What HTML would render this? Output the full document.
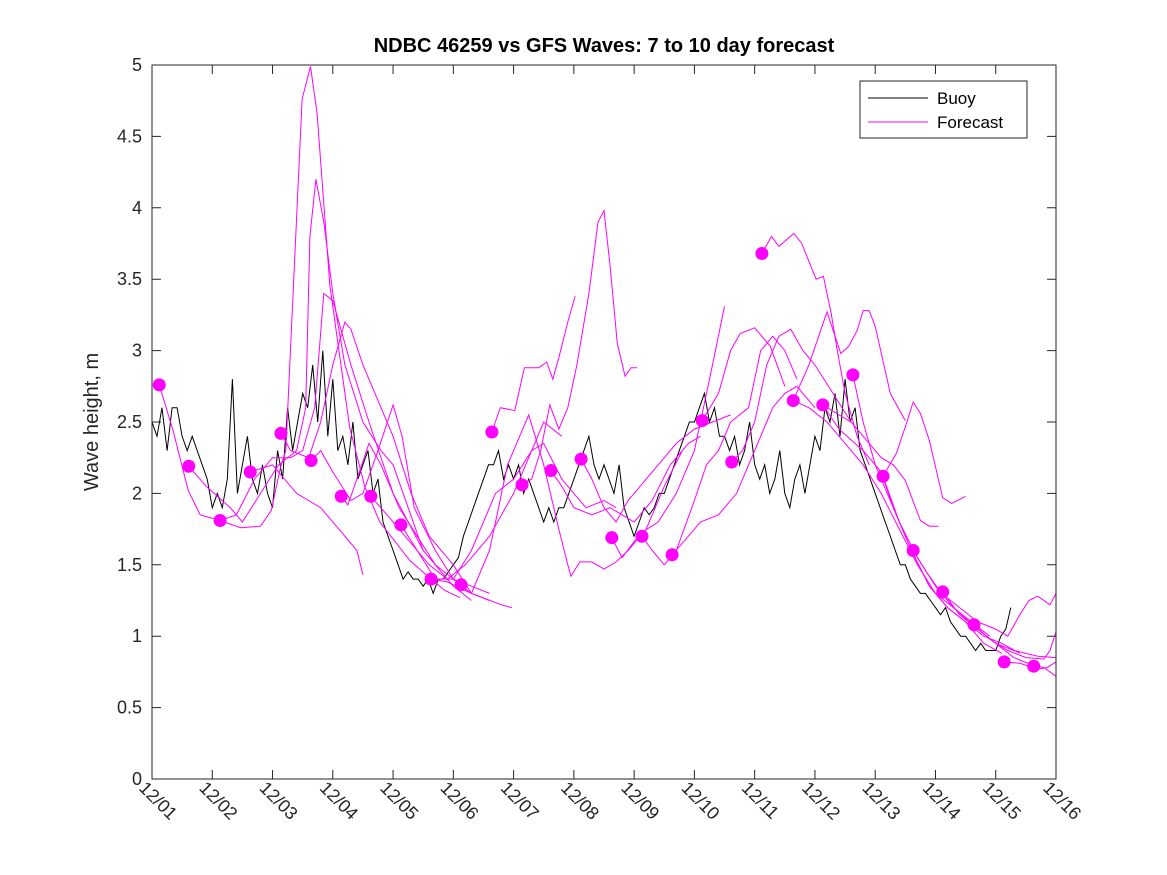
<!DOCTYPE html>
<html><head><meta charset="utf-8"><style>
body{margin:0;background:#fff;}
svg{display:block;font-family:"Liberation Sans","DejaVu Sans",sans-serif;}
</style></head><body>
<svg id="chart" width="1167" height="875" viewBox="0 0 1167 875" xmlns="http://www.w3.org/2000/svg">
<rect width="1167" height="875" fill="#fff"/>
<text x="604" y="52" text-anchor="middle" font-size="20" font-weight="bold" fill="#000">NDBC 46259 vs GFS Waves: 7 to 10 day forecast</text>
<text transform="translate(98,422) rotate(-90)" text-anchor="middle" font-size="20" fill="#262626">Wave height, m</text>
<g id="axes"></g>
<g id="series"></g>
<rect x="152" y="65" width="904" height="714" fill="none" stroke="#262626" stroke-width="1"/>
<g>
<rect x="860" y="81" width="167" height="57" fill="#fff" stroke="#262626" stroke-width="1"/>
<g><line x1="868" y1="98" x2="928" y2="98" stroke="#000" stroke-width="1"/><text x="937" y="104" font-size="17" fill="#000">Buoy</text></g>
<g><line x1="868" y1="122" x2="928" y2="122" stroke="#ff00ff" stroke-width="1"/><text x="937" y="128" font-size="17" fill="#000">Forecast</text></g>
</g>
</svg>
<script>
const xTickLabels=["12/01","12/02","12/03","12/04","12/05","12/06","12/07","12/08","12/09","12/10","12/11","12/12","12/13","12/14","12/15","12/16"];
const yTickValues=[0,0.5,1,1.5,2,2.5,3,3.5,4,4.5,5];
const yTickLabels=["0","0.5","1","1.5","2","2.5","3","3.5","4","4.5","5"];
const buoyStart=0, buoyStep=1/12;
const buoyValues=[
2.5,2.4,2.6,2.3,2.6,2.6, 2.4,2.3,2.4,2.3,2.2,2.1,
1.9,2.0,1.9,2.1,2.8,2.0, 2.2,2.4,2.1,2.0,2.2,2.0,
1.9,2.3,2.1,2.6,2.3,2.5, 2.7,2.6,2.9,2.5,3.0,2.4,
2.8,2.3,2.4,2.2,2.5,2.1, 2.2,2.3,2.0,2.1,1.8,1.7,
1.6,1.5,1.4,1.45,1.4,1.4, 1.35,1.4,1.3,1.4,1.4,1.45,
1.5,1.55,1.7,1.8,1.9,2.0, 2.1,2.2,2.2,2.3,2.1,2.2,
2.1,2.2,2.0,2.1,2.0,1.9, 1.8,1.9,1.8,1.9,1.9,2.0,
2.1,2.2,2.3,2.4,2.2,2.1, 2.2,2.1,2.0,2.2,1.9,1.8,
1.7,1.8,1.9,1.85,1.9,2.0, 2.0,2.1,2.2,2.3,2.4,2.5,
2.5,2.6,2.7,2.5,2.6,2.4, 2.4,2.3,2.4,2.2,2.3,2.5,
2.2,2.1,2.2,2.0,2.1,2.3, 2.0,1.9,2.1,2.2,2.0,2.2,
2.4,2.3,2.6,2.5,2.7,2.4, 2.8,2.5,2.6,2.3,2.2,2.1,
2.0,1.9,1.8,1.7,1.6,1.5, 1.5,1.4,1.35,1.3,1.3,1.25,
1.2,1.15,1.2,1.1,1.05,1.0, 1.0,0.95,0.9,0.95,0.9,0.9,
0.9,1.0,1.05,1.2];
const dotDays=[0.12,0.61,1.13,1.63,2.14,2.64,3.14,3.63,4.13,4.63,5.13,5.64,6.14,6.62,7.12,7.63,8.13,8.63,9.13,9.62,10.12,10.64,11.13,11.63,12.13,12.63,13.12,13.64,14.14,14.63];
const dotValues=[2.76,2.19,1.81,2.15,2.42,2.23,1.98,1.98,1.78,1.40,1.36,2.43,2.06,2.16,2.24,1.69,1.70,1.57,2.51,2.22,3.68,2.65,2.62,2.83,2.12,1.60,1.31,1.08,0.82,0.79];
const fcDays=[
[0.12,0.35,0.6,0.8,1.13,1.47,1.8,1.98,2.13,2.22,2.49,2.63,2.74,2.95,3.28,3.53,3.78,4.28,4.63,4.86,5.11],
[0.61,0.9,1.3,1.5,1.8,2.1,2.4,2.55,2.62,2.72,2.85,3.0,3.2,3.5,3.8,4.0,4.5],
[1.13,1.4,1.7,2.0,2.3,2.5,2.7,2.85,3.0,3.3,3.6,4.0,4.5,5.0,5.3],
[1.63,2.0,2.4,2.8,3.1,3.4,3.5],
[2.14,2.3,2.6,2.8,3.0,3.2,3.3,3.5,3.8,4.0,4.3,4.6,5.0,5.3,5.6],
[2.64,2.8,3.0,3.3,3.5,3.75,4.0,4.15,4.35,4.7,5.0,5.3,5.8,5.97],
[3.14,3.25,3.4,3.6,3.8,4.1,4.4,4.7,5.0,5.3,5.6],
[3.63,3.9,4.2,4.6,4.9,5.2,5.6,6.0,6.3,6.5,6.8],
[4.13,4.4,4.7,5.0,5.3,5.7,6.0,6.3,6.5,6.8,7.2,7.5,7.7],
[4.63,4.9,5.3,5.6,5.9,6.25,6.5,6.75,6.9,6.95,7.1,7.3,7.5,7.7,7.9,8.2,8.5,8.8],
[5.64,5.78,6.02,6.18,6.42,6.55,6.65,6.75,6.9,7.02],
[6.14,6.3,6.45,6.6,6.75,6.9,7.05,7.25,7.4,7.5,7.6,7.72,7.85,7.95,8.05],
[6.62,6.8,7.0,7.3,7.6,7.8,8.0,8.3,8.6,8.9,9.1],
[7.12,7.3,7.5,7.7,7.9,8.2,8.5,8.7,9.0,9.3,9.6],
[7.63,7.8,8.1,8.4,8.7,9.0,9.3,9.5],
[8.13,8.3,8.5,8.7,9.0,9.2,9.4,9.6,9.9,10.1,10.3,10.5,10.7],
[8.63,8.9,9.1,9.4,9.7,9.9,10.1,10.3,10.5,10.7,11.0],
[9.13,9.4,9.6,9.76,10.0,10.26,10.5],
[9.62,9.8,10.0,10.2,10.4,10.6,10.8,11.0,11.3,11.6],
[10.12,10.28,10.4,10.65,10.78,11.02,11.14,11.27,11.38,11.5,11.7,11.9],
[10.64,10.9,11.2,11.43,11.56,11.7,11.8,11.9,12.0,12.25,12.5],
[10.64,10.9,11.2,11.5,11.8,12.1,12.4,12.7,13.0,13.3,13.6,13.9],
[11.13,11.4,11.6,11.9,12.1,12.3,12.5,12.75,12.9,13.05],
[11.13,11.4,11.8,12.1,12.3,12.6,12.9,13.2,13.5,13.8,14.1],
[11.63,11.8,12.0,12.3,12.6,12.9,13.2,13.5,13.8,14.1,14.4],
[12.13,12.35,12.52,12.63,12.75,12.9,13.12,13.27,13.5],
[12.13,12.4,12.7,13.0,13.3,13.7,14.0,14.3,14.7,15.0],
[12.63,12.85,13.1,13.4,13.7,14.0,14.2,14.4,14.55,14.7,14.9,15.0],
[13.12,13.4,13.7,14.0,14.3,14.6,14.8,15.0],
[13.64,13.9,14.2,14.5,14.8,14.9,15.0],
[14.14,14.4,14.7,14.85,15.0]
];
const fcValues=[
[2.76,2.44,2.02,1.85,1.81,1.76,1.77,1.88,2.18,2.30,4.76,4.99,4.66,3.46,2.46,2.05,1.80,1.53,1.40,1.32,1.27],
[2.19,2.05,1.9,1.8,2.0,2.2,2.3,2.6,3.8,4.2,3.9,3.4,2.9,2.5,2.3,2.2,1.6],
[1.81,1.85,2.1,2.25,2.25,2.3,2.6,3.4,3.35,2.9,2.5,2.0,1.6,1.35,1.25],
[2.15,2.2,2.0,1.9,1.75,1.6,1.43],
[2.42,2.3,2.25,2.5,2.9,3.2,3.15,2.9,2.6,2.4,2.0,1.7,1.5,1.3,1.25],
[2.23,2.3,2.15,1.95,2.0,2.3,2.62,2.4,1.9,1.6,1.4,1.3,1.22,1.2],
[1.98,1.92,2.1,2.35,2.2,1.9,1.7,1.5,1.4,1.35,1.3],
[1.98,1.85,1.7,1.5,1.4,1.5,1.7,2.0,2.3,2.5,2.4],
[1.78,1.6,1.4,1.4,1.6,2.0,2.1,2.3,2.35,2.1,1.9,1.95,1.9],
[1.40,1.38,1.3,1.6,2.2,2.55,2.2,1.75,1.5,1.42,1.52,1.52,1.47,1.52,1.6,1.75,2.05,2.3],
[2.43,2.6,2.58,2.88,2.88,2.92,2.8,2.95,3.2,3.38],
[2.06,2.1,2.3,2.62,2.45,2.6,2.9,3.4,3.9,3.98,3.6,3.05,2.82,2.88,2.88],
[2.16,2.05,1.9,1.85,1.9,1.85,1.8,1.95,2.2,2.35,2.4],
[2.24,2.1,1.9,1.8,1.95,2.1,2.25,2.35,2.45,2.5,2.55],
[1.69,1.55,1.72,1.8,2.0,2.3,2.9,3.31],
[1.70,1.6,1.5,1.6,1.95,2.2,2.3,2.5,2.6,3.0,3.1,3.0,2.8],
[1.57,1.7,1.8,1.85,2.0,2.2,2.4,2.6,2.7,2.75,2.6],
[2.51,2.7,3.0,3.12,3.16,3.03,2.75],
[2.22,2.3,2.5,2.9,3.1,3.15,3.0,2.9,2.7,2.5],
[3.68,3.8,3.73,3.82,3.75,3.5,3.52,3.26,2.98,2.7,2.4,2.2],
[2.65,2.9,3.27,2.98,3.03,3.14,3.28,3.28,3.17,2.7,2.51],
[2.65,2.6,2.5,2.35,2.2,2.0,1.75,1.5,1.3,1.2,1.1,1.0],
[2.62,2.55,2.5,2.35,2.25,2.2,2.09,1.81,1.77,1.77],
[2.62,2.45,2.3,2.15,1.9,1.6,1.35,1.2,1.1,0.95,0.88],
[2.83,2.5,2.2,1.9,1.6,1.35,1.2,1.1,1.0,0.95,0.88],
[2.12,2.28,2.49,2.64,2.56,2.37,1.97,1.93,1.98],
[2.12,1.8,1.55,1.35,1.2,1.05,0.95,0.9,0.86,0.85],
[1.60,1.45,1.3,1.2,1.1,1.05,1.0,1.15,1.25,1.28,1.22,1.3],
[1.31,1.15,1.05,0.95,0.85,0.8,0.78,0.72],
[1.08,0.98,0.9,0.85,0.84,0.9,1.03],
[0.82,0.81,0.77,0.78,0.82]
];
const X0=152,X1=1056,Y0=779,Y1=65,DAYS=15,YMAX=5;
function xScale(d){return X0+(X1-X0)*d/DAYS;}
function yScale(v){return Y0-(Y0-Y1)*v/YMAX;}
const NS="http://www.w3.org/2000/svg";
const axes=document.getElementById('axes');
const series=document.getElementById('series');
function mk(tag,attrs,parent){const e=document.createElementNS(NS,tag);for(const k in attrs)e.setAttribute(k,attrs[k]);parent.appendChild(e);return e;}
yTickValues.forEach((v,i)=>{
  const y=yScale(v);
  const t=mk('path',{d:`M${X0} ${y}H${X0+9}M${X1} ${y}H${X1-9}`,stroke:'#262626','stroke-width':1},axes);
  
  
  const l=mk('text',{x:X0-10,y:y+6,'text-anchor':'end','font-size':18,fill:'#262626'},axes);
  l.textContent=yTickLabels[i];
  
  
});
xTickLabels.forEach((s,i)=>{
  const x=xScale(i);
  const t=mk('path',{d:`M${x} ${Y0}V${Y0-9}M${x} ${Y1}V${Y1+9}`,stroke:'#262626','stroke-width':1},axes);
  
  
  const l=mk('text',{transform:`translate(${x-14},${Y0+10}) rotate(45)`,'font-size':18,fill:'#262626'},axes);
  l.textContent=s;
  
  
});
const bp=buoyValues.map((v,i)=>`${xScale(buoyStart+i*buoyStep).toFixed(1)},${yScale(v).toFixed(1)}`).join(' ');
const buoy=mk('polyline',{points:bp,fill:'none',stroke:'#000','stroke-width':1},series);


fcDays.forEach((ds,j)=>{
  const pts=ds.map((d,i)=>`${xScale(d).toFixed(1)},${yScale(fcValues[j][i]).toFixed(1)}`).join(' ');
  const p=mk('polyline',{points:pts,fill:'none',stroke:'#ff00ff','stroke-width':1},series);
  
  
});
dotDays.forEach((d,i)=>{
  const c=mk('circle',{cx:xScale(d),cy:yScale(dotValues[i]),r:6.5,fill:'#ff00ff'},series);
  
  
});
</script>
</body></html>
